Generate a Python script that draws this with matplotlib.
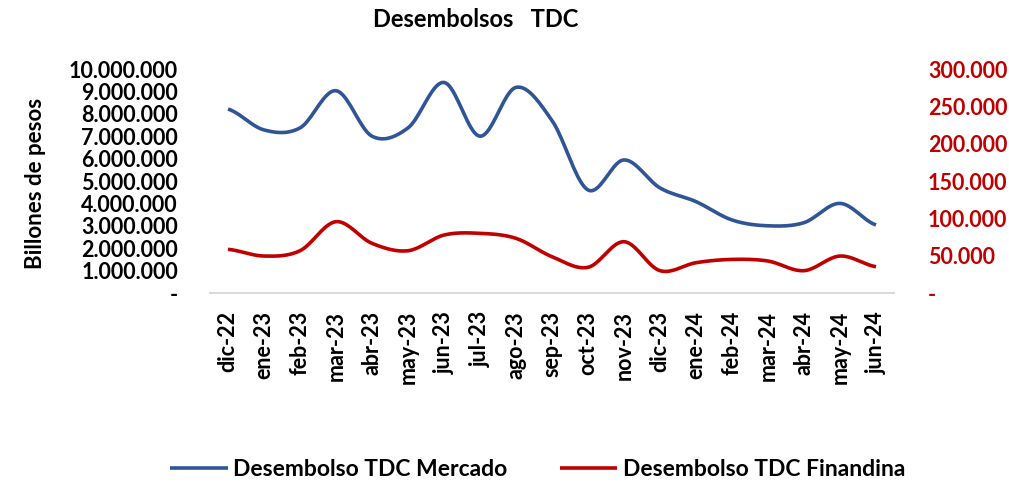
import numpy as np
import matplotlib
matplotlib.use("Agg")
from matplotlib import pyplot as plt
from matplotlib.ticker import FuncFormatter

# data
meses = ["dic-22", "ene-23", "feb-23", "mar-23", "abr-23", "may-23", "jun-23",
         "jul-23", "ago-23", "sep-23", "oct-23", "nov-23", "dic-23", "ene-24",
         "feb-24", "mar-24", "abr-24", "may-24", "jun-24"]
mercado = [8210000, 7280000, 7370000, 9030000, 7000000, 7370000, 9400000,
           7000000, 9180000, 7700000, 4600000, 5940000, 4690000, 4080000,
           3260000, 3000000, 3140000, 4000000, 3040000]
finandina = [58500, 49500, 56600, 95500, 66500, 56600, 77600, 79900, 73200,
             48600, 34400, 68700, 29900, 40600, 45000, 42800, 29900, 49500, 35200]

azul = "#2F5597"
rojo = "#C00000"
plt.rcParams['font.family'] = ['Lato', 'DejaVu Sans']
plt.rcParams['font.weight'] = 'bold'


def suave(y, n=20):
    # curva suavizada tipo Excel (Catmull-Rom) que pasa por los puntos
    y = np.asarray(y, dtype=float)
    x = np.arange(len(y), dtype=float)
    xs, ys = [], []
    for i in range(len(y) - 1):
        p0 = y[i - 1] if i > 0 else y[i]
        p3 = y[i + 2] if i + 2 < len(y) else y[i + 1]
        p1, p2 = y[i], y[i + 1]
        t = np.linspace(0, 1, n, endpoint=False)
        c1 = p1 + (p2 - p0) / 6
        c2 = p2 - (p3 - p1) / 6
        yy = (1 - t) ** 3 * p1 + 3 * (1 - t) ** 2 * t * c1 + 3 * (1 - t) * t ** 2 * c2 + t ** 3 * p2
        xs.extend(x[i] + t)
        ys.extend(yy)
    xs.append(x[-1])
    ys.append(y[-1])
    return np.array(xs), np.array(ys)


def miles(v, pos):
    if v == 0:
        return "-"
    return f"{int(v):,}".replace(",", ".")


fig = plt.figure(figsize=(10.09, 4.86), dpi=100)
ax = fig.add_axes([210 / 1009, 1 - 293 / 486, (894 - 210) / 1009, (293 - 69) / 486])
ax2 = ax.twinx()

x1, y1 = suave(mercado)
x2, y2 = suave(finandina)
l1, = ax.plot(x1, y1, color=azul, lw=2.6, label="Desembolso TDC Mercado", solid_capstyle="butt")
l2, = ax2.plot(x2, y2, color=rojo, lw=2.6, label="Desembolso TDC Finandina", solid_capstyle="butt")

ax.set_xlim(-0.5, len(meses) - 0.5)
ax.set_ylim(0, 10000000)
ax2.set_ylim(0, 300000)
ax.set_yticks(np.arange(0, 10000001, 1000000))
ax2.set_yticks(np.arange(0, 300001, 50000))
ax.yaxis.set_major_formatter(FuncFormatter(miles))
ax2.yaxis.set_major_formatter(FuncFormatter(miles))

ax.set_xticks(range(len(meses)))
ax.set_xticklabels(meses, rotation=90, fontsize=15.5, fontweight="bold")
ax.tick_params(axis="y", labelsize=15.5, length=0, pad=23)
ax2.tick_params(axis="y", labelsize=15.5, length=0, pad=24.5, labelcolor=rojo)
ax.tick_params(axis="x", length=0, pad=13)

for a in (ax, ax2):
    for s in ["top", "left", "right"]:
        a.spines[s].set_visible(False)
    a.spines["bottom"].set_color("#D9D9D9")
    a.spines["bottom"].set_linewidth(1.2)

fig.text(0.471, 0.959, "Desembolsos   TDC", ha="center", va="center", fontsize=17, fontweight="bold")
fig.text(0.035, 0.623, "Billones de pesos", rotation=90, ha="center", va="center", fontsize=16, fontweight="bold")

fig.legend(handles=[l1, l2], loc="center", bbox_to_anchor=(0.533, 0.033), ncol=2, frameon=False,
           fontsize=16.5, handlelength=2.5, columnspacing=2.27, handletextpad=0.26)

fig.savefig("out.png", dpi=100)
